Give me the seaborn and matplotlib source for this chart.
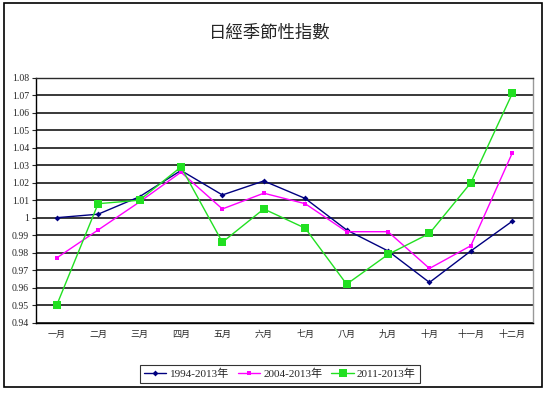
import matplotlib
matplotlib.use("Agg")
import matplotlib.pyplot as plt
import seaborn as sns
import pandas as pd
import numpy as np
from matplotlib.patches import Rectangle

# Data
months = ['一月', '二月', '三月', '四月', '五月', '六月',
          '七月', '八月', '九月', '十月', '十一月', '十二月']
s_1994 = [1.000, 1.002, 1.012, 1.027, 1.013, 1.021,
          1.011, 0.993, 0.981, 0.963, 0.981, 0.998]
s_2004 = [0.977, 0.993, 1.009, 1.026, 1.005, 1.014,
          1.008, 0.992, 0.992, 0.971, 0.984, 1.037]
s_2011 = [0.950, 1.008, 1.010, 1.029, 0.986, 1.005,
          0.994, 0.962, 0.979, 0.991, 1.020, 1.071]
labels = ['1994-2013年', '2004-2013年', '2011-2013年']
yticks = [0.94, 0.95, 0.96, 0.97, 0.98, 0.99, 1, 1.01,
          1.02, 1.03, 1.04, 1.05, 1.06, 1.07, 1.08]
ytick_labels = ['0.94', '0.95', '0.96', '0.97', '0.98', '0.99', '1', '1.01',
                '1.02', '1.03', '1.04', '1.05', '1.06', '1.07', '1.08']

sns.set_style("white")
plt.rcParams['font.family'] = ['Liberation Serif', 'Noto Sans CJK TC']

fig = plt.figure(figsize=(5.57, 3.95), dpi=100)
W, H = 557, 395
ax = fig.add_axes([36 / W, 1 - 322.7 / H, (533 - 36) / W, (322.7 - 77.7) / H])

x = np.arange(len(months))
styles = [
    (s_1994, '#000080', 'D', 3.0),
    (s_2004, '#ff00ff', 's', 3.5),
    (s_2011, '#22e022', 's', 5.5),
]
for (vals, color, marker, ms), lab in zip(styles, labels):
    df = pd.DataFrame({'x': x, 'value': vals})
    sns.lineplot(data=df, x='x', y='value', ax=ax, color=color, marker=marker,
                 markersize=ms, markeredgewidth=0, linewidth=1.0, label=lab,
                 zorder=3)

ax.set_xlim(-0.5, 11.5)
ax.set_ylim(0.94, 1.08)
ax.set_yticks(yticks)
ax.set_yticklabels(ytick_labels, fontsize=7, family=['Liberation Serif'])
ax.set_xticks(x)
ax.set_xticklabels(months, fontsize=6.5, family=['Noto Sans CJK TC'])
ax.set_xlabel('')
ax.set_ylabel('')
ax.tick_params(axis='y', length=3, width=0.8, pad=2, left=True, direction='out')
ax.tick_params(axis='x', length=0, pad=5)

for yv in yticks:
    ax.axhline(yv, color='#2a2a2a', linewidth=1.3, zorder=1)

ax.spines['left'].set_color('black')
ax.spines['bottom'].set_color('black')
ax.spines['top'].set_color('#2a2a2a')
ax.spines['right'].set_color('#999999')
for sp in ax.spines.values():
    sp.set_linewidth(1.0)

leg = ax.legend(loc='center', bbox_to_anchor=(280 / W, 1 - 374 / H),
                bbox_transform=fig.transFigure, ncol=3, fontsize=8,
                frameon=True, fancybox=False, handlelength=2.0,
                handletextpad=0.3, columnspacing=0.8, borderpad=0.35,
                prop={'family': ['Liberation Serif', 'Noto Sans CJK TC'], 'size': 8})
leg.get_frame().set_edgecolor('black')
leg.get_frame().set_linewidth(0.8)

fig.text(270 / W, 1 - 33 / H, '日經季節性指數', ha='center', va='center',
         fontsize=12.5, family=['Noto Sans CJK TC'])

fig.patches.append(Rectangle((4 / W, 1 - 387 / H), (542 - 4) / W, (387 - 3) / H,
                             transform=fig.transFigure, fill=False,
                             edgecolor='black', linewidth=1.2))

fig.savefig('out.png', dpi=100)
